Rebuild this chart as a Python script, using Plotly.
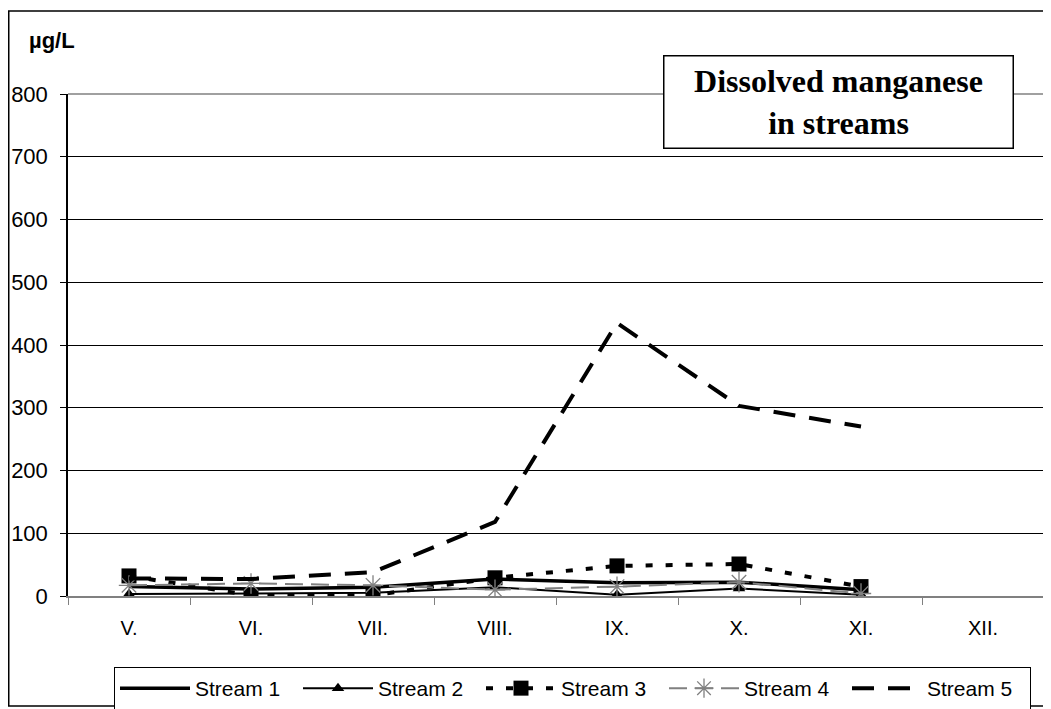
import plotly.graph_objects as go

# months (x categories)
months = ['V.', 'VI.', 'VII.', 'VIII.', 'IX.', 'X.', 'XI.', 'XII.']

# dissolved manganese, ug/L (no data for XII.)
stream_1 = [15, 11, 14, 27, 21, 22, 10, None]
stream_2 = [3, 4, 5, 14, 2, 12, 2, None]
stream_3 = [32, 1, 1, 29, 48, 51, 15, None]
stream_4 = [17, 20, 17, 10, 15, 22, 4, None]
stream_5 = [28, 27, 38, 118, 435, 303, 270, None]

y_ticks = [0, 100, 200, 300, 400, 500, 600, 700, 800]

# the page puts the figure 8px in from the top-left corner
OFF = 8
W, H = 1051 - OFF, 709 - OFF
L, R, T, B = 68 - OFF, 7, 94 - OFF, 113
pw, ph = W - L - R, H - T - B

SANS = 'Liberation Sans, Arial'


def px_x(x):
    # page x -> paper fraction
    return (x - OFF - L) / pw


def px_y(y):
    # page y -> paper fraction
    return (T + ph - (y - OFF)) / ph


fig = go.Figure()

fig.add_trace(go.Scatter(x=months, y=stream_1, name='Stream 1', mode='lines',
                         line=dict(color='black', width=3.5)))
fig.add_trace(go.Scatter(x=months, y=stream_2, name='Stream 2', mode='lines+markers',
                         line=dict(color='black', width=2),
                         marker=dict(symbol='triangle-up', size=11, color='black')))
fig.add_trace(go.Scatter(x=months, y=stream_3, name='Stream 3', mode='lines+markers',
                         line=dict(color='black', width=4, dash='7px,13px'),
                         marker=dict(symbol='square', size=15, color='black')))
fig.add_trace(go.Scatter(x=months, y=stream_4, name='Stream 4', mode='lines+markers',
                         line=dict(color='#808080', width=2, dash='18px,8px'),
                         marker=dict(symbol='asterisk-open', size=17,
                                     line=dict(color='black', width=1.3))))
fig.add_trace(go.Scatter(x=months, y=stream_5, name='Stream 5', mode='lines',
                         line=dict(color='black', width=4, dash='22px,14px')))

# outer chart border
fig.add_shape(type='rect', xref='paper', yref='paper',
              x0=px_x(OFF + 0.75), x1=px_x(1048), y0=px_y(706), y1=px_y(11),
              line=dict(color='black', width=1.5))

# plot area border top/right in gray
fig.add_shape(type='line', xref='paper', yref='paper', x0=0, x1=1, y0=1, y1=1,
              line=dict(color='#808080', width=1.5))
fig.add_shape(type='line', xref='paper', yref='paper', x0=1, x1=1, y0=0, y1=1,
              line=dict(color='#808080', width=1.5))

fig.add_annotation(text='<b>Dissolved manganese<br>in streams</b>',
                   xref='paper', yref='paper',
                   x=px_x(838), y=px_y(101.5),
                   xanchor='center', yanchor='middle', showarrow=False,
                   width=346, height=89, align='center',
                   bordercolor='black', borderwidth=1.5, bgcolor='white',
                   font=dict(family='Liberation Serif', size=32, color='black'))

fig.add_annotation(text='<b>µg/L</b>', xref='paper', yref='paper',
                   x=px_x(27), y=px_y(40),
                   xanchor='left', yanchor='middle', showarrow=False,
                   font=dict(family='Liberation Sans', size=22, color='black'))

fig.update_layout(
    width=W, height=H,
    margin=dict(l=L, r=R, t=T, b=B, autoexpand=False),
    paper_bgcolor='white', plot_bgcolor='white',
    font=dict(family=SANS, size=21, color='black'),
    showlegend=True,
    legend=dict(orientation='h', x=px_x(114), y=px_y(667),
                xanchor='left', yanchor='top',
                bordercolor='black', borderwidth=1, bgcolor='white',
                font=dict(size=21), itemwidth=70, entrywidth=98,
                tracegroupgap=0),
    xaxis=dict(type='category', categoryorder='array', categoryarray=months,
               range=[-0.5, 7.5], showgrid=False, showline=True,
               linecolor='#808080', linewidth=1.5, ticks='outside',
               tickson='boundaries', ticklen=7, tickcolor='#808080',
               ticklabelstandoff=13, tickfont=dict(size=20), automargin=False),
    yaxis=dict(range=[0, 800], tickvals=y_ticks, showgrid=True,
               gridcolor='black', gridwidth=1, showline=True,
               linecolor='black', linewidth=1.5, ticks='outside',
               ticklen=6, tickcolor='black', zeroline=False,
               ticklabelstandoff=8, tickfont=dict(size=22), automargin=False),
)

fig.write_html('out.html')
